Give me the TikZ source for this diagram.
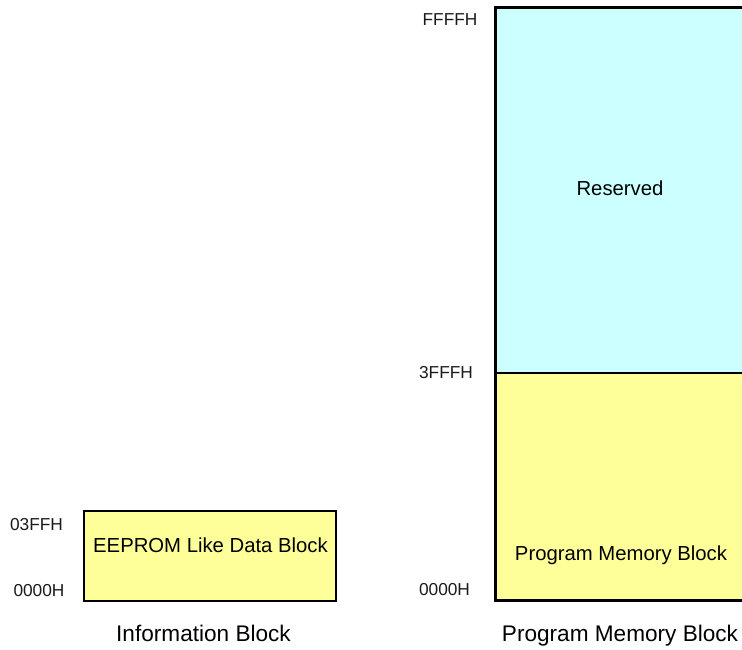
\documentclass[tikz,border=0pt]{standalone}
\usepackage{fontspec}
\setmainfont{Liberation Sans}
\definecolor{resv}{HTML}{CCFFFF}
\definecolor{pmem}{HTML}{FFFF99}
\definecolor{txt}{HTML}{1A1A1A}
\tikzset{
  addr/.style={anchor=base, inner sep=0pt, text=txt, font=\fontsize{17.3}{20}\selectfont},
  inner/.style={anchor=base, inner sep=0pt, text=black, font=\fontsize{20.3}{24}\selectfont},
  caption/.style={anchor=base, inner sep=0pt, text=black, font=\fontsize{22.6}{26}\selectfont},
  outline/.style={draw=black, line width=2pt}
}
\begin{document}
\begin{tikzpicture}[x=1pt,y=1pt]
\useasboundingbox (0,0) rectangle (742,650);
\clip (0,0) rectangle (742,650);
% program memory block column
\fill[resv] (495,277) rectangle (760,642);
\fill[pmem] (495,49) rectangle (760,277);
\draw[line width=2pt] (495,277) -- (760,277);
\draw[line width=3pt, line join=miter] (760,642) -- (495,642) -- (495,49) -- (760,49);
% information block
\draw[outline, fill=pmem] (84,49) rectangle (336,139);
% texts
\node[addr] (ffff) at (450,624) {FFFFH};
\node[addr] (a3fff) at (446,271) {3FFFH};
\node[addr] (p0000) at (444.5,54) {0000H};
\node[addr] (a03ff) at (36.5,119) {03FFH};
\node[addr] (i0000) at (39,53) {0000H};
\node[inner] (res) at (620,454) {Reserved};
\node[inner] (pmb) at (621,89) {Program Memory Block};
\node[inner] (eep) at (210.5,97) {EEPROM Like Data Block};
\node[caption] (infocap) at (203.5,8) {Information Block};
\node[caption] (pmcap) at (620,8) {Program Memory Block};
\end{tikzpicture}
\end{document}
